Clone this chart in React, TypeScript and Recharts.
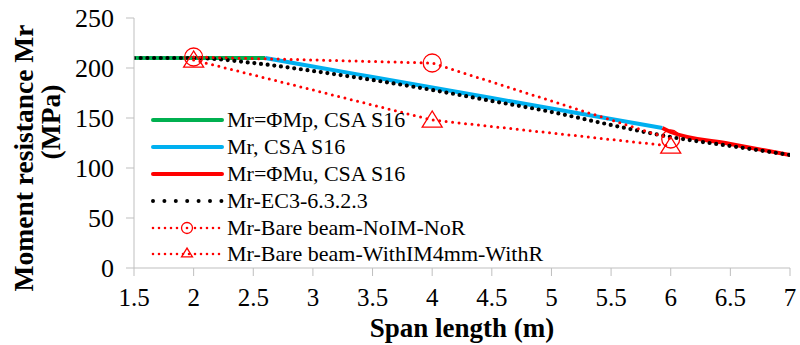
import React from 'react';
import { LineChart, Line, XAxis, YAxis } from 'recharts';

const xTicks = [1.5, 2, 2.5, 3, 3.5, 4, 4.5, 5, 5.5, 6, 6.5, 7];
const yTicks = [0, 50, 100, 150, 200, 250];

const mpX = [1.5, 2, 2.6];
const mpY = [210, 210, 210];

const mrX = [2.6, 3, 3.5, 4, 4.5, 5, 5.5, 5.93];
const mrY = [210, 201.5, 191, 180.5, 170, 159.5, 149, 140];

const muX = [5.93, 6, 6.5, 7];
const muY = [140, 136, 124, 113];

const ec3X = [1.5, 2, 2.5, 3, 3.5, 4, 4.5, 5, 5.5, 6, 6.5, 7];
const ec3Y = [210, 210, 205, 197, 188, 178, 167, 156, 143, 131, 122, 113];

const noImX = [2, 4, 6];
const noImY = [211, 205, 129];

const withImX = [2, 4, 6];
const withImY = [208, 148, 122];

const toRows = (xs: number[], ys: number[]) => xs.map((x, i) => ({ x, y: ys[i] }));

const FONT = '"Liberation Serif", serif';
const AXIS = '#bfbfbf';
const RED = '#ff0000';

const Triangle = (props: any) => {
  const { cx, cy, size = 10 } = props;
  if (cx == null || cy == null) return null;
  const h = size * 0.9;
  return (
    <polygon
      points={`${cx},${cy - h} ${cx - size},${cy + h * 0.8} ${cx + size},${cy + h * 0.8}`}
      fill="none"
      stroke={RED}
      strokeWidth={1.3}
    />
  );
};

const legendItems = [
  { name: 'Mr=ΦMp, CSA S16', kind: 'solid', color: '#00b050' },
  { name: 'Mr, CSA S16', kind: 'solid', color: '#00b0f0' },
  { name: 'Mr=ΦMu, CSA S16', kind: 'solid', color: RED },
  { name: 'Mr-EC3-6.3.2.3', kind: 'black', color: '#000' },
  { name: 'Mr-Bare beam-NoIM-NoR', kind: 'circle', color: RED },
  { name: 'Mr-Bare beam-WithIM4mm-WithR', kind: 'tri', color: RED },
];

const LegendBox = () => (
  <div style={{ position: 'absolute', left: 150, top: 107, fontFamily: FONT, fontSize: 22, color: '#000' }}>
    {legendItems.map((it) => (
      <div key={it.name} style={{ display: 'flex', alignItems: 'center', height: 26.8 }}>
        <svg width={76} height={20} style={{ flex: 'none' }}>
          {it.kind === 'solid' && (
            <line x1={3} y1={10} x2={72} y2={10} stroke={it.color} strokeWidth={4} strokeLinecap="round" />
          )}
          {it.kind === 'black' && (
            <line x1={3} y1={10} x2={72} y2={10} stroke="#000" strokeWidth={4} strokeDasharray="0 11.4" strokeLinecap="round" />
          )}
          {(it.kind === 'circle' || it.kind === 'tri') && (
            <line x1={3} y1={10} x2={72} y2={10} stroke={RED} strokeWidth={2.6} strokeDasharray="0 6" strokeLinecap="round" />
          )}
          {it.kind === 'circle' && <circle cx={37} cy={10} r={5.5} fill="#fff" stroke={RED} strokeWidth={1.3} />}
          {it.kind === 'circle' && <circle cx={37} cy={10} r={1.3} fill={RED} />}
          {it.kind === 'tri' && <Triangle cx={37} cy={9} size={5.5} />}
        </svg>
        <span style={{ whiteSpace: 'nowrap', marginLeft: 1 }}>{it.name}</span>
      </div>
    ))}
  </div>
);

const YTitle = () => (
  <g fontFamily={FONT} fontWeight="bold" fontSize={27.5} fill="#000">
    <text transform="translate(33,158) rotate(-90)" textAnchor="middle">Moment resistance Mr</text>
    <text transform="translate(60,122) rotate(-90)" textAnchor="middle">(MPa)</text>
  </g>
);

export default function App() {
  return (
    <div style={{ position: 'absolute', left: 0, top: 0, width: 800, height: 345, background: '#fff' }}>
      <LineChart width={800} height={345} margin={{ top: 18, right: 10, left: 0, bottom: 0 }}>
        <XAxis
          type="number"
          dataKey="x"
          domain={[1.5, 7]}
          ticks={xTicks}
          interval={0}
          allowDataOverflow
          tickSize={8}
          tickMargin={12}
          height={77}
          stroke={AXIS}
          tick={{ fill: '#000', fontFamily: FONT, fontSize: 25 }}
          label={{
            value: 'Span length (m)',
            position: 'insideBottom',
            offset: 8,
            style: { fill: '#000', fontFamily: FONT, fontWeight: 'bold', fontSize: 27 },
          }}
        />
        <YAxis
          type="number"
          domain={[0, 250]}
          ticks={yTicks}
          interval={0}
          width={134}
          tickSize={8}
          tickMargin={12}
          stroke={AXIS}
          tick={{ fill: '#000', fontFamily: FONT, fontSize: 26 }}
          label={<YTitle />}
        />
        <Line data={toRows(mpX, mpY)} dataKey="y" type="linear" stroke="#00b050" strokeWidth={4} dot={false} isAnimationActive={false} />
        <Line data={toRows(mrX, mrY)} dataKey="y" type="monotone" stroke="#00b0f0" strokeWidth={4} dot={false} isAnimationActive={false} />
        <Line data={toRows(muX, muY)} dataKey="y" type="monotone" stroke={RED} strokeWidth={4} dot={false} isAnimationActive={false} />
        <Line
          data={toRows(ec3X, ec3Y)}
          dataKey="y"
          type="monotone"
          stroke="#000"
          strokeWidth={4.2}
          strokeDasharray="0 6.7"
          strokeLinecap="round"
          dot={false}
          isAnimationActive={false}
        />
        <Line
          data={toRows(noImX, noImY)}
          dataKey="y"
          type="linear"
          stroke={RED}
          strokeWidth={3}
          strokeDasharray="0 6.5"
          strokeLinecap="round"
          dot={{ r: 9, fill: 'none', stroke: RED, strokeWidth: 1.3, strokeDasharray: '' }}
          isAnimationActive={false}
        />
        <Line
          data={toRows(withImX, withImY)}
          dataKey="y"
          type="linear"
          stroke={RED}
          strokeWidth={3}
          strokeDasharray="0 6.5"
          strokeLinecap="round"
          dot={(p: any) => <Triangle key={`t${p.index}`} cx={p.cx} cy={p.cy} size={10} />}
          isAnimationActive={false}
        />
      </LineChart>
      <LegendBox />
    </div>
  );
}
